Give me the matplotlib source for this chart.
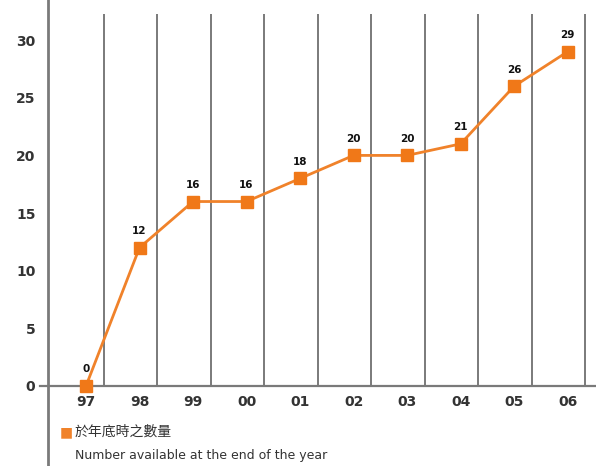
import matplotlib.pyplot as plt
import matplotlib.transforms as mtransforms

# year-end counts
years = ["97", "98", "99", "00", "01", "02", "03", "04", "05", "06"]
counts = [0, 12, 16, 16, 18, 20, 20, 21, 26, 29]
y_ticks = [0, 5, 10, 15, 20, 25, 30]

orange = "#f0822a"
grey = "#7a7a7a"

fig = plt.figure(figsize=(5.96, 4.66), dpi=100)
ax = fig.add_axes([48 / 596, 0, 1 - 48 / 596, 1])
ax.set_xlim(-0.71, 9.53)
ax.set_ylim(-6.94, 33.48)

for s in ["top", "right", "bottom"]:
    ax.spines[s].set_visible(False)
ax.spines["left"].set_color(grey)
ax.spines["left"].set_linewidth(2)

x = list(range(len(years)))

# separators between years
ax.vlines([i + 0.33 for i in x], 0, 32.3, color=grey, lw=1.4, zorder=1)

# zero baseline, poking out a little past the left spine
trans = mtransforms.blended_transform_factory(ax.transAxes, ax.transData)
ax.plot([-0.015, 1], [0, 0], color=grey, lw=1.6, transform=trans, clip_on=False, zorder=1)

ax.plot(x, counts, color=orange, lw=2, marker="s", ms=8, mfc="#f07818", mec="#f07818", zorder=3, clip_on=False)
for xi, v in zip(x, counts):
    ax.text(xi, v + 1.0, str(v), ha="center", va="bottom", fontsize=7.5, fontweight="bold", color="#111111")

ax.set_yticks(y_ticks)
ax.set_yticklabels([str(t) for t in y_ticks], fontsize=10, fontweight="bold", color="#333333")
ax.tick_params(axis="y", length=0, pad=9)
ax.set_xticks([])

for xi, lab in zip(x, years):
    ax.text(xi, -0.8, lab, ha="center", va="top", fontsize=10, fontweight="bold", color="#333333")

# legend
fig.text(60 / 596, 1 - 432 / 466, "■", color=orange, fontsize=10, va="center", ha="left")
fig.text(75 / 596, 1 - 432 / 466, "於年底時之數量", fontsize=10, va="center", ha="left",
         family=["Noto Sans CJK TC", "DejaVu Sans"], color="#333333")
fig.text(75 / 596, 1 - 455 / 466, "Number available at the end of the year", fontsize=9,
         va="center", ha="left", color="#333333")

fig.savefig("out.png", dpi=100)
